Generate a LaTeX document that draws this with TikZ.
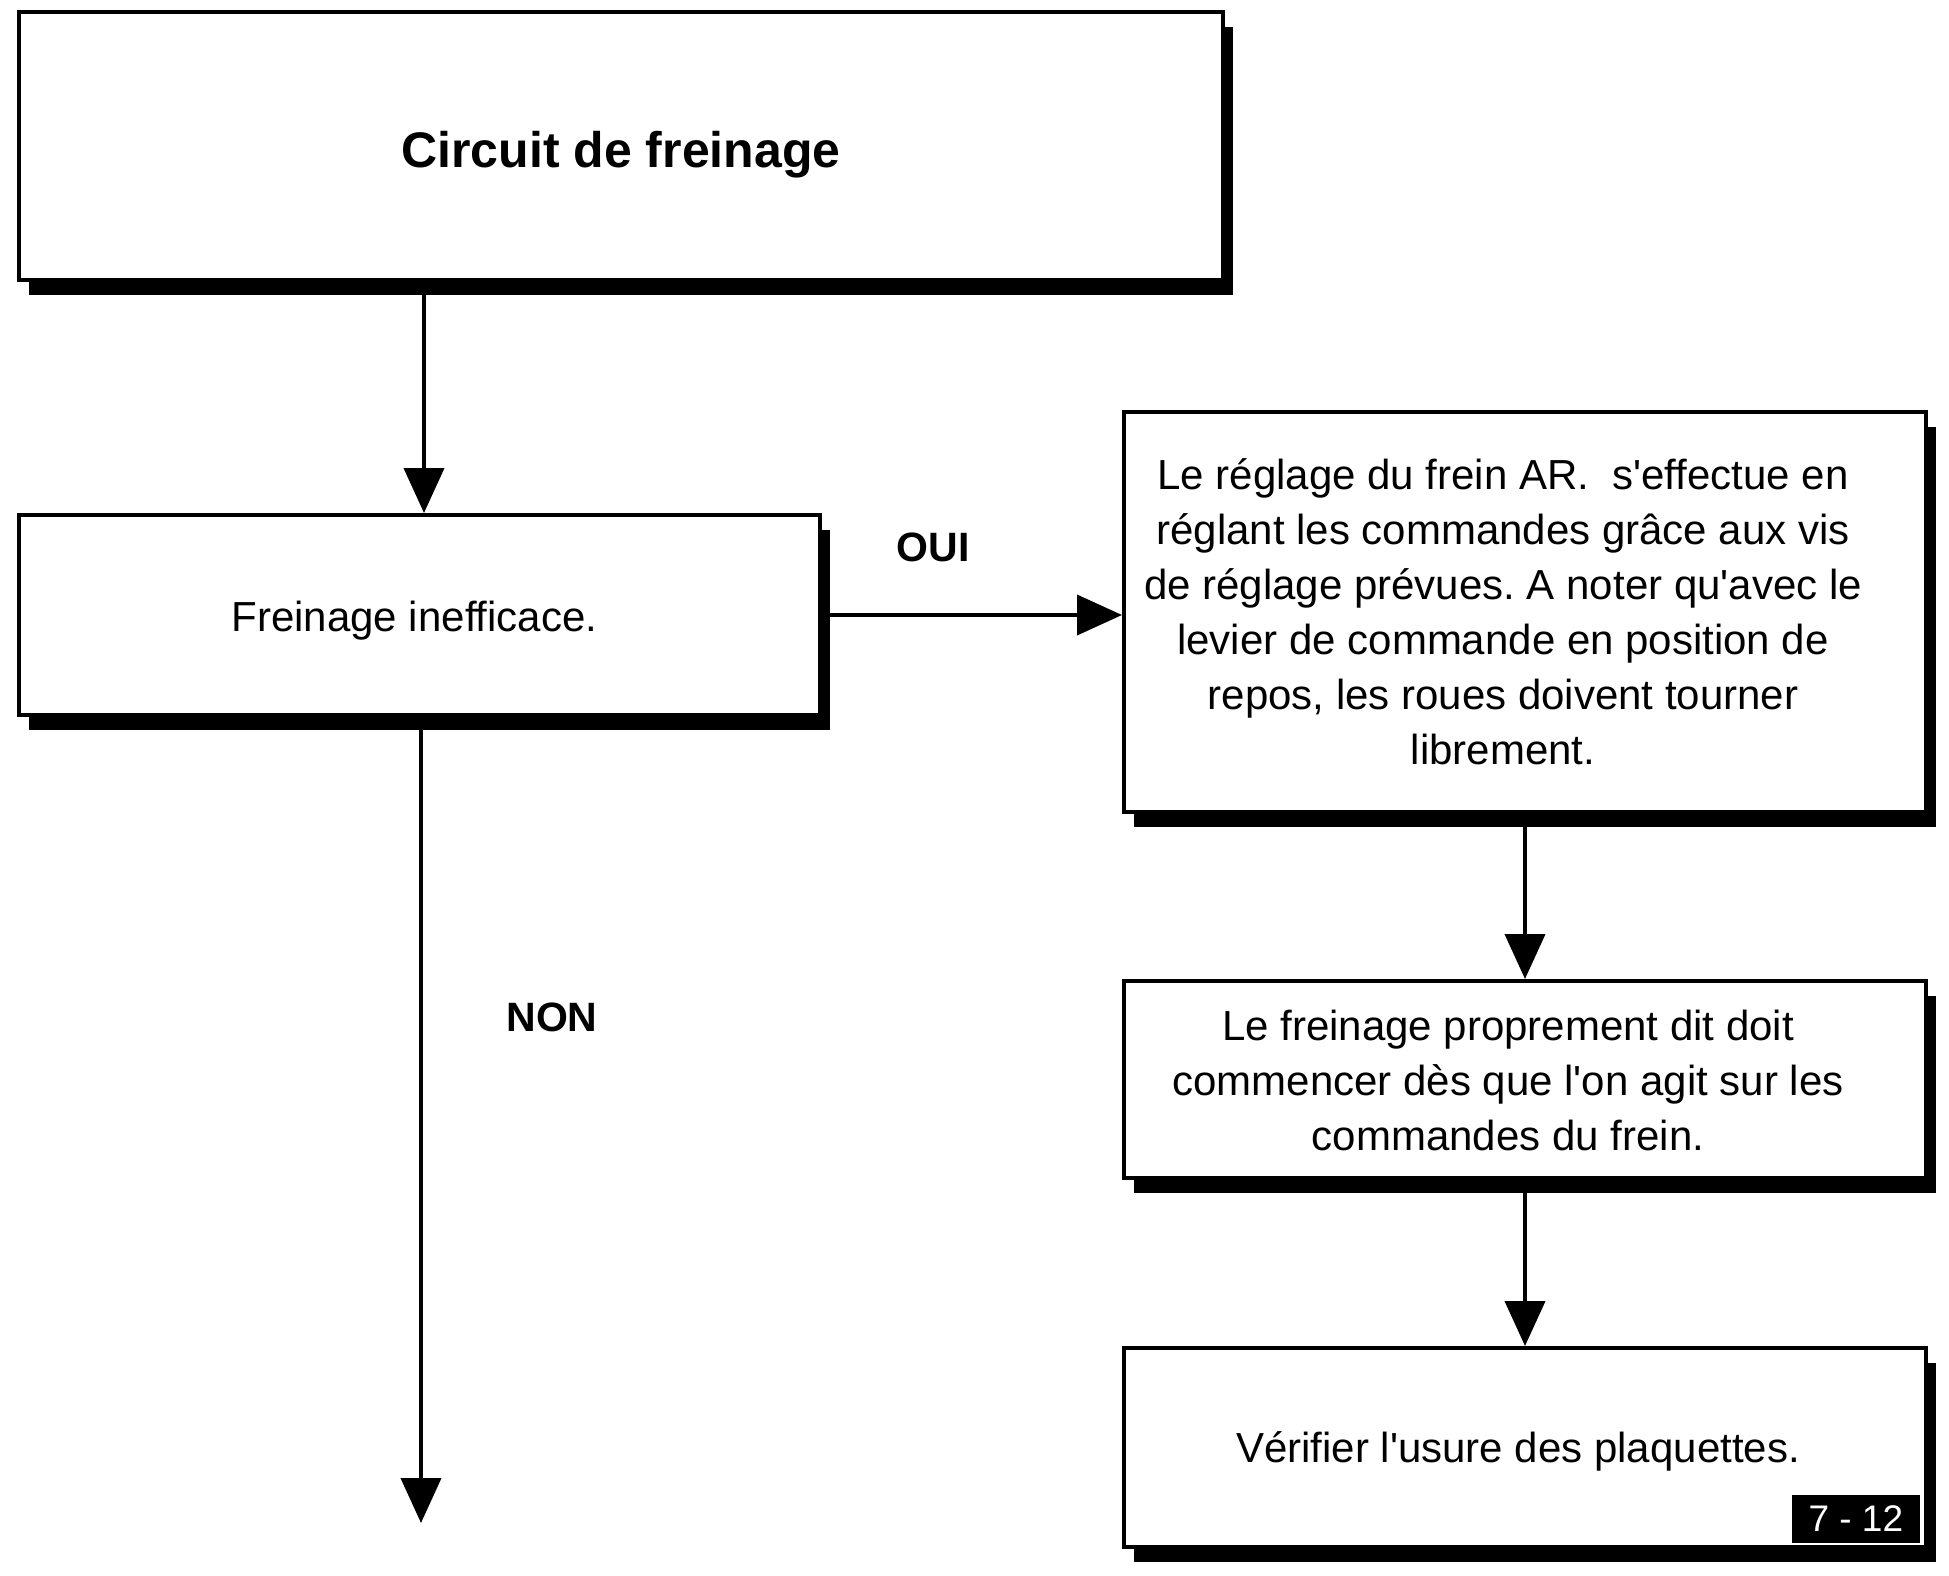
\documentclass[tikz,border=0pt]{standalone}
\usepackage{fontspec}
\setmainfont{Liberation Sans}
\usetikzlibrary{arrows.meta,shadows}
\frenchspacing
\newcommand{\ap}{\textquotesingle}
\newcommand{\lowr}[2]{\raisebox{-#1}[\height][\depth]{#2}}
\begin{document}
\begin{tikzpicture}[x=1pt,y=-1pt,
  box/.style={draw, line width=4pt, fill=white, inner sep=0pt, anchor=north west,
    font=\fontsize{42}{55}\selectfont,
    drop shadow={shadow xshift=10pt, shadow yshift=-15pt, fill=black, opacity=1}},
  arr/.style={line width=4pt, -{Triangle[width=40pt,length=45pt]}},
  lbl/.style={font=\fontsize{41}{49}\selectfont\bfseries},
  pagebox/.style={fill=black, text=white, inner sep=0pt, minimum width=128pt,
    minimum height=48pt, anchor=south east, font=\fontsize{37}{44}\selectfont}]
\useasboundingbox (0,0) rectangle (1949,1575);

\node[box, minimum width=1204pt, minimum height=268pt] (b1) at (17,10)
  {\lowr{9pt}{\fontsize{50}{60}\selectfont\bfseries Circuit de freinage}};
\node[box, minimum width=801pt, minimum height=200pt] (b2) at (17,513)
  {\lowr{5pt}{\begin{tabular}{@{}c@{\hspace{10pt}}}Freinage inefficace.\end{tabular}}};
\node[box, minimum width=802pt, minimum height=400pt] (b3) at (1122,410)
  {\lowr{4pt}{\begin{tabular}{@{}c@{\hspace{44pt}}}
   Le réglage du frein AR.\ \ s\ap effectue en\\
   réglant les commandes grâce aux vis\\
   de réglage prévues. A noter qu\ap avec le\\
   levier de commande en position de\\
   repos, les roues doivent tourner\\
   librement.\end{tabular}}};
\node[box, minimum width=802pt, minimum height=197pt] (b4) at (1122,979)
  {\lowr{5pt}{\begin{tabular}{@{}c@{\hspace{34pt}}}
   Le freinage proprement dit doit\\
   commencer dès que l\ap on agit sur les\\
   commandes du frein.\end{tabular}}};
\node[box, minimum width=802pt, minimum height=199pt] (b5) at (1122,1346)
  {\lowr{4pt}{\begin{tabular}{@{}c@{\hspace{14pt}}}Vérifier l\ap usure des plaquettes.\end{tabular}}};
\node[pagebox] (pg) at (1920,1543) {7 - 12};

\node[lbl] (oui) at (933,547) {OUI};
\node[lbl] (non) at (552,1017) {NON};

\coordinate (nonend) at (421,1523);

\draw[arr] (b1.south -| 424,0) -- (424,513) coordinate (b2in);
\draw[arr] (b2.east) -- (b3.west |- b2.east);
\draw[arr] (b2.south -| nonend) -- (nonend);
\draw[arr] (b3.south) -- (b4.north);
\draw[arr] (b4.south) -- (b5.north);
\end{tikzpicture}
\end{document}
